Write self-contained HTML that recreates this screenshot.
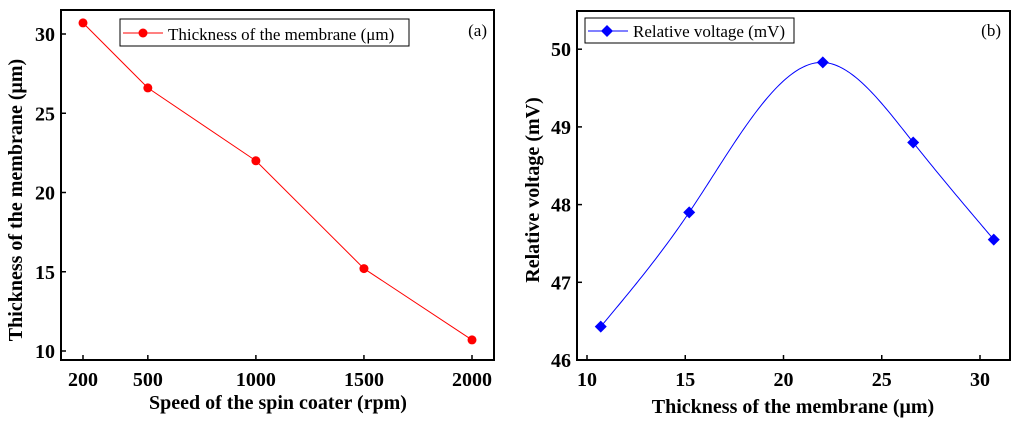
<!DOCTYPE html>
<html><head><meta charset="utf-8"><style>
body{margin:0;background:#fff}
svg{display:block;font-family:"Liberation Serif",serif}
.tk{font-size:20px;font-weight:bold}
.tt{font-size:20px;font-weight:bold}
.lg{font-size:17px}
</style></head><body>
<svg id="c" width="1024" height="423" viewBox="0 0 1024 423"></svg>
<script>
const speedsA=[200,500,1000,1500,2000];
const thickA=[30.7,26.6,22.0,15.2,10.7];
const xTicksA=[200,500,1000,1500,2000];
const yTicksA=[10,15,20,25,30];
const thickB=[10.7,15.2,22.0,26.6,30.7];
const voltB=[46.43,47.9,49.83,48.8,47.55];
const xTicksB=[10,15,20,25,30];
const yTicksB=[46,47,48,49,50];

const NS="http://www.w3.org/2000/svg";
const svg=document.getElementById('c');
function el(t,a,p){const e=document.createElementNS(NS,t);for(const k in a)e.setAttribute(k,a[k]);(p||svg).appendChild(e);return e;}
const xA=v=>83+(v-200)*(389/1800), yA=v=>351-(v-10)*(317/20);
const xB=v=>587+(v-10)*(393/20), yB=v=>360-(v-46)*77.7;

function panel(box,xT,yT,xf,yf,name){
  const g=el('g',{});
  
  
  const r=el('rect',{x:box[0],y:box[1],width:box[2]-box[0],height:box[3]-box[1],fill:'none',stroke:'#000','stroke-width':2},g);
  
  
  xT.forEach(v=>{const x=xf(v);el('line',{x1:x,x2:x,y1:box[3],y2:box[3]-5,stroke:'#000','stroke-width':1.5},g);
    const t=el('text',{x:x,y:box[3]+26,'text-anchor':'middle',class:'tk'},g);t.textContent=v;
    
    });
  yT.forEach(v=>{const y=yf(v);el('line',{x1:box[0],x2:box[0]+5,y1:y,y2:y,stroke:'#000','stroke-width':1.5},g);
    const t=el('text',{x:box[0]-6,y:y+7,'text-anchor':'end',class:'tk'},g);t.textContent=v;
    
    });
  return g;
}
// Panel a
const ga=panel([61,10,494,360],xTicksA,yTicksA,xA,yA,'panel-a');
let d='';speedsA.forEach((v,i)=>{d+=(i?'L':'M')+xA(v)+','+yA(thickA[i]);});
const la=el('path',{d:d,fill:'none',stroke:'#f00','stroke-width':1},ga);


speedsA.forEach((v,i)=>{const c=el('circle',{cx:xA(v),cy:yA(thickA[i]),r:4.5,fill:'#f00'},ga);
  
  });
let t;
t=el('text',{x:278,y:409,'text-anchor':'middle',class:'tt'},ga);t.textContent='Speed of the spin coater (rpm)';


t=el('text',{x:0,y:0,'text-anchor':'middle',class:'tt',transform:'translate(22,200) rotate(-90)'},ga);t.textContent='Thickness of the membrane (\u03bcm)';


const lga=el('g',{},ga);


el('rect',{x:120,y:19,width:289,height:27,fill:'#fff',stroke:'#000','stroke-width':1},lga);
el('line',{x1:123,x2:163,y1:33,y2:33,stroke:'#f00','stroke-width':1},lga);
el('circle',{cx:143,cy:33,r:4.5,fill:'#f00'},lga);
t=el('text',{x:168,y:40,class:'lg'},lga);t.textContent='Thickness of the membrane (\u03bcm)';
t=el('text',{x:487,y:36,'text-anchor':'end',style:'font-size:17px'},ga);t.textContent='(a)';



// Panel b: natural cubic spline y(x)
const gb=panel([577,11,1010,360],xTicksB,yTicksB,xB,yB,'panel-b');
function spline(xs,ys){
  const n=xs.length,h=[],a=[],l=[1],mu=[0],z=[0],c=new Array(n).fill(0),b=[],dd=[];
  for(let i=0;i<n-1;i++)h[i]=xs[i+1]-xs[i];
  for(let i=1;i<n-1;i++)a[i]=3/h[i]*(ys[i+1]-ys[i])-3/h[i-1]*(ys[i]-ys[i-1]);
  for(let i=1;i<n-1;i++){l[i]=2*(xs[i+1]-xs[i-1])-h[i-1]*mu[i-1];mu[i]=h[i]/l[i];z[i]=(a[i]-h[i-1]*z[i-1])/l[i];}
  l[n-1]=1;z[n-1]=0;
  for(let j=n-2;j>=0;j--){c[j]=z[j]-mu[j]*c[j+1];b[j]=(ys[j+1]-ys[j])/h[j]-h[j]*(c[j+1]+2*c[j])/3;dd[j]=(c[j+1]-c[j])/(3*h[j]);}
  return x=>{let j=0;while(j<n-2&&x>xs[j+1])j++;const t=x-xs[j];return ys[j]+b[j]*t+c[j]*t*t+dd[j]*t*t*t;};
}
const f=spline(thickB,voltB);
let db='';const x0=thickB[0],x1=thickB[thickB.length-1];
for(let k=0;k<=200;k++){const x=x0+(x1-x0)*k/200;db+=(k?'L':'M')+xB(x).toFixed(2)+','+yB(f(x)).toFixed(2);}
const lb=el('path',{d:db,fill:'none',stroke:'#00f','stroke-width':1},gb);


thickB.forEach((v,i)=>{const px=xB(v),py=yB(voltB[i]);const m=el('path',{d:`M${px},${py-6}L${px+6},${py}L${px},${py+6}L${px-6},${py}Z`,fill:'#00f'},gb);
  
  });
t=el('text',{x:793,y:413,'text-anchor':'middle',class:'tt'},gb);t.textContent='Thickness of the membrane (\u03bcm)';


t=el('text',{x:0,y:0,'text-anchor':'middle',class:'tt',transform:'translate(539,190) rotate(-90)'},gb);t.textContent='Relative voltage (mV)';


const lgb=el('g',{},gb);


el('rect',{x:585,y:18,width:209,height:25,fill:'#fff',stroke:'#000','stroke-width':1},lgb);
el('line',{x1:588,x2:628,y1:31,y2:31,stroke:'#00f','stroke-width':1},lgb);
el('path',{d:'M607,25L613,31L607,37L601,31Z',fill:'#00f'},lgb);
t=el('text',{x:633,y:37,class:'lg'},lgb);t.textContent='Relative voltage (mV)';
t=el('text',{x:1001,y:36,'text-anchor':'end',style:'font-size:17px'},gb);t.textContent='(b)';


</script>
</body></html>
